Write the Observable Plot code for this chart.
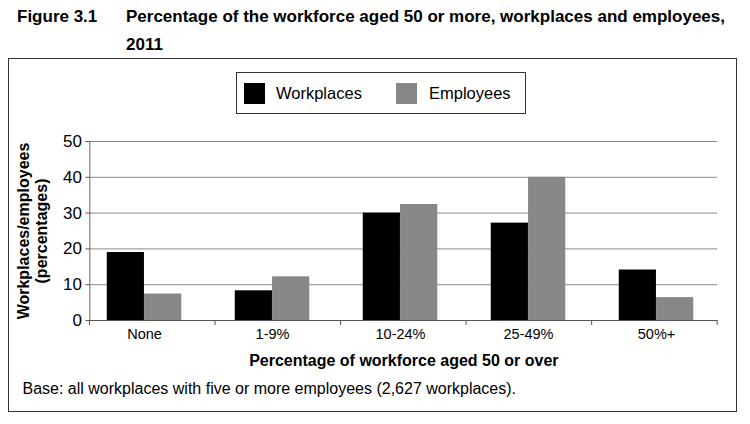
<!DOCTYPE html>
<html>
<head>
<meta charset="utf-8">
<script src="https://cdn.jsdelivr.net/npm/d3@7"></script>
<script src="https://cdn.jsdelivr.net/npm/@observablehq/plot@0.6"></script>
<style>
  html, body { margin: 0; padding: 0; background: #fff; }
  body { width: 750px; height: 424px; position: relative; overflow: hidden;
         font-family: "Liberation Sans", Arial, sans-serif; color: #000; }
  .fig { position: absolute; left: 17px; top: 3px; font-weight: bold; font-size: 17px; line-height: 28px; }
  .title { position: absolute; left: 126px; top: 3px; width: 620px; font-weight: bold; font-size: 17px; line-height: 28px; }
  .box { position: absolute; left: 8px; top: 58px; width: 727px; height: 352px; border: 1.5px solid #333; }
  .legend { position: absolute; left: 226.5px; top: 13.2px; width: 288.7px; height: 40px; border: 1px solid #333;
            font-size: 16.5px; }
  .legend .sw { position: absolute; top: 10.3px; width: 21px; height: 21px; }
  .legend .lb { position: absolute; top: 11px; line-height: 19px; }
  .caption { position: absolute; left: 13.5px; top: 321px; font-size: 16px; }
  #chart { position: absolute; left: 0px; top: 66px; }
</style>
</head>
<body>
<div class="fig">Figure 3.1</div>
<div class="title">Percentage of the workforce aged 50 or more, workplaces and employees,<br>2011</div>
<div class="box">
  <div class="legend" id="legend"></div>
  <div id="chart"></div>
  <div class="caption">Base: all workplaces with five or more employees (2,627 workplaces).</div>
</div>
<script>
const categories = ["None", "1-9%", "10-24%", "25-49%", "50%+"];
const series = ["Workplaces", "Employees"];
const workplaces = [19.0, 8.3, 30.0, 27.2, 14.1];
const employees = [7.4, 12.2, 32.4, 40.0, 6.4];
const yTicks = [0, 10, 20, 30, 40, 50];
const colors = ["#000000", "#878787"];

const data = [];
categories.forEach((c, i) => {
  data.push({category: c, series: series[0], value: workplaces[i]});
  data.push({category: c, series: series[1], value: employees[i]});
});

// legend (HTML)
const leg = document.getElementById("legend");
const legPos = [[7.5, 39.5], [159.8, 192.5]];
series.forEach((s, i) => {
  const sw = document.createElement("div");
  sw.className = "sw"; sw.style.left = legPos[i][0] + "px"; sw.style.background = colors[i];
  const lb = document.createElement("div");
  lb.className = "lb"; lb.style.left = legPos[i][1] + "px"; lb.textContent = s;
  leg.appendChild(sw); leg.appendChild(lb);
});

const W = 727, H = 250;
const mL = 80.5, mR = 18.8, mT = 16, mB = 55;
// bar groups sit on a slightly wider grid than the frame (as in the original)
const xRange = [71.1, 711.7];
const bw = (xRange[1] - xRange[0]) / categories.length;
const barW = 37.3;
const side = (bw - 2 * barW) / 2;
const frameBw = (W - mL - mR) / categories.length;

const chart = Plot.plot({
  width: W, height: H,
  marginLeft: mL, marginRight: mR, marginTop: mT, marginBottom: mB,
  style: {fontFamily: "Liberation Sans, Arial, sans-serif", fontSize: "15px", color: "#000", background: "transparent", overflow: "visible"},
  x: {type: "band", domain: categories, padding: 0, range: xRange, label: null},
  y: {domain: [0, 50], label: null},
  color: {domain: series, range: colors},
  marks: [
    Plot.gridY(yTicks.slice(1), {stroke: "#8a8a8a", strokeOpacity: 1, strokeWidth: 1}),
    Plot.barY(data.filter(d => d.series === series[0]), {x: "category", y: "value", fill: "series",
      insetLeft: side, insetRight: bw - side - barW}),
    Plot.barY(data.filter(d => d.series === series[1]), {x: "category", y: "value", fill: "series",
      insetLeft: side + barW, insetRight: side}),
    // y axis line
    Plot.ruleX([0], {x: () => categories[0], dx: -bw / 2 + (mL - xRange[0]), y1: 0, y2: 50, stroke: "#666"}),
    // x axis line
    Plot.ruleY([0], {stroke: "#555", strokeWidth: 1.2}),
    // category boundary ticks (on the frame's even grid)
    Plot.ruleX(d3.range(categories.length + 1), {x: () => categories[0], y1: 0, y2: -1.3, stroke: "#555",
      render: (index, scales, values, dims, context, next) => {
        const g = d3.create("svg:g");
        d3.range(categories.length + 1).forEach(i => {
          const xp = dims.marginLeft + i * frameBw;
          g.append("line").attr("x1", xp).attr("x2", xp)
            .attr("y1", scales.y(0)).attr("y2", scales.y(0) + 5).attr("stroke", "#555");
        });
        return g.node();
      }}),
    Plot.axisY({ticks: yTicks, tickSize: 4, tickPadding: 4, fontSize: 17, stroke: "#555"}),
    Plot.axisX({tickSize: 0, tickPadding: 8, fontSize: 14.5}),
    Plot.text(["Percentage of workforce aged 50 or over"], {frameAnchor: "bottom", dy: 45, fontWeight: "bold", fontSize: 16}),
    Plot.text(["Workplaces/employees\n(percentages)"], {frameAnchor: "left", textAnchor: "middle", rotate: -90, dx: -58,
      fontWeight: "bold", fontSize: 16, lineHeight: 1.15})
  ]
});
document.getElementById("chart").appendChild(chart);
</script>
</body>
</html>
